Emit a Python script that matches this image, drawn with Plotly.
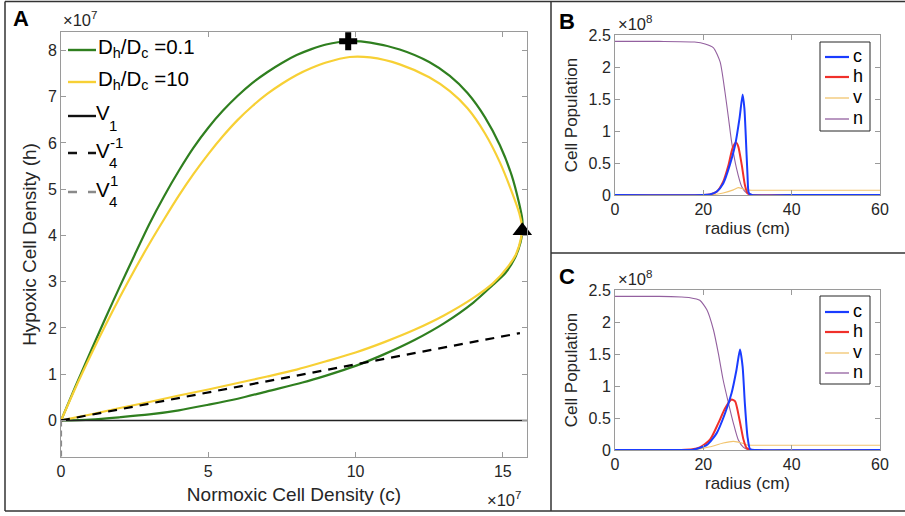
import plotly.graph_objects as go

W, H = 905, 516
FONT = "Liberation Sans, Arial, Helvetica, sans-serif"
TXT = "#262626"
AXC = "#9a9a9a"

# ---------------- Panel A data (units of 1e7) ----------------
# upper branches (origin -> tip) and lower branches (tip -> origin)
green_up_c = [0, 0.5, 1.0, 1.5, 2.0, 2.5, 3.0, 3.5, 4.0, 4.5, 5.0, 5.5, 6.0, 6.5, 7.0, 7.5, 8.0, 8.5, 9.0, 9.75,
              10.5, 11.5, 12.5, 13.2, 13.8, 14.4, 14.9, 15.3, 15.55, 15.66, 15.68]
green_up_h = [0, 0.75, 1.48, 2.2, 2.9, 3.58, 4.25, 4.85, 5.4, 5.9, 6.33, 6.7, 7.02, 7.3, 7.53, 7.73, 7.9, 8.03, 8.13, 8.2,
              8.17, 8.02, 7.75, 7.45, 7.08, 6.55, 5.95, 5.3, 4.7, 4.35, 4.15]
green_lo_c = [15.68, 15.6, 15.4, 15.1, 14.66, 14.0, 13.0, 12.0, 11.0, 10.0, 9.0, 8.2, 7.0, 6.0, 5.0, 4.0, 3.0, 2.0, 1.0, 0]
green_lo_h = [4.15, 3.85, 3.5, 3.2, 2.93, 2.55, 2.1, 1.74, 1.44, 1.18, 0.97, 0.82, 0.63, 0.47, 0.34, 0.22, 0.13, 0.07, 0.02, 0]
yellow_up_c = [0, 0.5, 1.0, 1.5, 2.0, 2.5, 3.0, 3.5, 4.0, 4.5, 5.0, 5.5, 6.0, 6.5, 7.0, 7.5, 8.0, 8.5, 9.0, 9.8,
               10.5, 11.5, 12.5, 13.2, 13.8, 14.4, 14.9, 15.3, 15.55, 15.66]
yellow_up_h = [0, 0.72, 1.4, 2.05, 2.67, 3.26, 3.82, 4.35, 4.86, 5.33, 5.76, 6.15, 6.5, 6.8, 7.06, 7.28, 7.47, 7.62, 7.74, 7.86,
               7.85, 7.7, 7.42, 7.12, 6.75, 6.2, 5.58, 4.95, 4.5, 4.2]
yellow_lo_c = [15.66, 15.62, 15.45, 15.2, 14.67, 14.0, 13.0, 12.0, 11.0, 10.0, 9.0, 8.0, 7.0, 6.0, 5.0, 4.0, 3.0, 2.0, 1.0, 0]
yellow_lo_h = [4.2, 3.95, 3.6, 3.35, 2.97, 2.65, 2.27, 1.96, 1.7, 1.47, 1.28, 1.1, 0.95, 0.81, 0.67, 0.54, 0.4, 0.27, 0.13, 0]
v1_c = [0, 15.82]
v1_h = [0, 0]
v4m_c = [0, 15.58]
v4m_h = [0, 1.89]
v4p_c = [0, 0]
v4p_h = [0, -0.79]
plus_A = (9.75, 8.2)
tri_A = (15.66, 4.1)

# ---------------- Panel B data (units of 1e8) ----------------
rB_n = [0, 10, 18, 20.4, 22.3, 23.8, 24.9, 25.7, 26.4, 27.5, 28.7, 29.8, 31, 40, 60]
B_n = [2.4, 2.4, 2.39, 2.36, 2.3, 2.08, 1.61, 1.2, 0.83, 0.42, 0.13, 0.03, 0, 0, 0]
rB_c = [0, 20, 21.5, 23, 24.5, 26, 27.2, 28.2, 28.9, 29.3, 29.6, 30.0, 30.3, 31, 40, 60]
B_c = [0, 0, 0.01, 0.05, 0.18, 0.47, 0.78, 1.2, 1.57, 1.35, 0.94, 0.31, 0.03, 0, 0, 0]
rB_h = [0, 20, 21.5, 23, 24.5, 25.7, 26.6, 27.4, 27.9, 28.7, 29.4, 30.0, 31, 40, 60]
B_h = [0, 0, 0.01, 0.05, 0.21, 0.47, 0.73, 0.82, 0.76, 0.47, 0.16, 0.03, 0, 0, 0]
rB_v = [0, 20, 22, 24.5, 26.8, 27.9, 29.0, 29.8, 31, 40, 60]
B_v = [0, 0, 0.005, 0.03, 0.08, 0.115, 0.095, 0.08, 0.075, 0.075, 0.075]
plus_B = (27.5, -0.16)

# ---------------- Panel C data (units of 1e8) ----------------
rC_n = [0, 10, 15, 17, 19.2, 20.8, 22.3, 23.4, 24.5, 25.7, 26.8, 27.9, 29.1, 30.5, 40, 60]
C_n = [2.4, 2.4, 2.39, 2.38, 2.34, 2.19, 1.875, 1.51, 1.09, 0.73, 0.42, 0.16, 0.04, 0, 0, 0]
rC_c = [0, 15, 17.7, 20.8, 23, 24.9, 26.4, 27.5, 28.3, 28.9, 29.4, 30.0, 30.6, 32, 60]
C_c = [0, 0, 0.005, 0.08, 0.26, 0.57, 0.89, 1.25, 1.57, 1.30, 0.73, 0.21, 0.01, 0, 0]
rC_h = [0, 15, 17.5, 19.2, 21.5, 23.4, 24.9, 26.4, 27.2, 28.2, 29.1, 29.8, 31, 60]
C_h = [0, 0, 0.01, 0.04, 0.16, 0.42, 0.65, 0.79, 0.76, 0.47, 0.16, 0.03, 0, 0]
rC_v = [0, 15, 18, 21.5, 24.5, 26.8, 28.7, 29.8, 31, 60]
C_v = [0, 0, 0.005, 0.05, 0.11, 0.135, 0.11, 0.08, 0.075, 0.075]
tri_C = (28.5, -0.10)

A_xticks = [0, 5, 10, 15]
A_yticks = [0, 1, 2, 3, 4, 5, 6, 7, 8]
BC_xticks = [0, 20, 40, 60]
BC_yticks = [0, 0.5, 1, 1.5, 2, 2.5]
BC_ytext = ["0", "0.5", "1", "1.5", "2", "2.5"]

GREEN = "#2f7f1f"
YELLOW = "#f7d035"
BLUE = "#1a3cff"
RED = "#f0302a"
ORANGE = "#f2c46e"
PURPLE = "#93609f"


def px(x):
    return x / W


def py(y):
    return 1 - y / H


fig = go.Figure()


def curve(xs, ys, col, lw, xa, ya, smooth=0.8, dash=None):
    fig.add_trace(go.Scatter(x=xs, y=ys, mode="lines",
                             line=dict(color=col, width=lw, shape="spline", smoothing=smooth, dash=dash),
                             xaxis=xa, yaxis=ya, showlegend=False, hoverinfo="skip"))


# Panel A traces
curve(green_up_c, green_up_h, GREEN, 2.2, "x", "y")
curve(green_lo_c, green_lo_h, GREEN, 2.2, "x", "y")
curve(yellow_up_c, yellow_up_h, YELLOW, 2.2, "x", "y")
curve(yellow_lo_c, yellow_lo_h, YELLOW, 2.2, "x", "y")
curve(v1_c, v1_h, "#222222", 1.6, "x", "y")
curve(v4m_c, v4m_h, "black", 2.2, "x", "y", dash="9px,7px")
curve(v4p_c, v4p_h, "#8a8a8a", 2.2, "x", "y", dash="6px,4px")
fig.add_trace(go.Scatter(x=[plus_A[0]], y=[plus_A[1]], mode="markers", cliponaxis=False, hoverinfo="skip",
                         marker=dict(symbol="cross", size=15, color="black"), xaxis="x", yaxis="y", showlegend=False))
fig.add_trace(go.Scatter(x=[tri_A[0]], y=[tri_A[1]], mode="markers", cliponaxis=False, hoverinfo="skip",
                         marker=dict(symbol="triangle-up", size=17, color="black"), xaxis="x", yaxis="y", showlegend=False))

# Panels B, C
for xa, ya, data in [("x2", "y2", [(rB_n, B_n, PURPLE, 1.1), (rB_v, B_v, ORANGE, 1.1), (rB_h, B_h, RED, 2.0), (rB_c, B_c, BLUE, 2.0)]),
                     ("x3", "y3", [(rC_n, C_n, PURPLE, 1.1), (rC_v, C_v, ORANGE, 1.1), (rC_h, C_h, RED, 2.0), (rC_c, C_c, BLUE, 2.0)])]:
    for xs, ys, col, lw in data:
        curve(xs, ys, col, lw, xa, ya, smooth=0.6)

fig.add_trace(go.Scatter(x=[plus_B[0]], y=[plus_B[1]], mode="markers", cliponaxis=False, hoverinfo="skip",
                         marker=dict(symbol="cross", size=15, color="black"), xaxis="x2", yaxis="y2", showlegend=False))
fig.add_trace(go.Scatter(x=[tri_C[0]], y=[tri_C[1]], mode="markers", cliponaxis=False, hoverinfo="skip",
                         marker=dict(symbol="triangle-up", size=15, color="black"), xaxis="x3", yaxis="y3", showlegend=False))

axis_common = dict(showline=True, linecolor=AXC, linewidth=1, mirror="ticks", ticks="inside", ticklen=5,
                   tickcolor=AXC, zeroline=False, showgrid=False, automargin=False,
                   tickfont=dict(family=FONT, size=16, color=TXT))

fig.update_layout(
    width=W, height=H, margin=dict(l=0, r=0, t=0, b=0, autoexpand=False),
    paper_bgcolor="white", plot_bgcolor="white",
    font=dict(family=FONT, color=TXT),
    xaxis=dict(domain=[px(61), px(527)], range=[0, 15.82], tickvals=A_xticks, anchor="y",
               title=dict(text="Normoxic Cell Density (c)", font=dict(size=19, family=FONT, color=TXT), standoff=8), **axis_common),
    yaxis=dict(domain=[py(457), py(32)], range=[-0.79, 8.4], tickvals=A_yticks, anchor="x",
               title=dict(text="Hypoxic Cell Density (h)", font=dict(size=19, family=FONT, color=TXT), standoff=6), **axis_common),
    xaxis2=dict(domain=[px(615), px(880)], range=[0, 60], tickvals=BC_xticks, anchor="y2",
                title=dict(text="radius (cm)", font=dict(size=17, family=FONT, color=TXT), standoff=4), **axis_common),
    yaxis2=dict(domain=[py(195), py(35)], range=[0, 2.5], tickvals=BC_yticks, ticktext=BC_ytext, anchor="x2",
                title=dict(text="Cell Population", font=dict(size=17, family=FONT, color=TXT), standoff=6), **axis_common),
    xaxis3=dict(domain=[px(615), px(880)], range=[0, 60], tickvals=BC_xticks, anchor="y3",
                title=dict(text="radius (cm)", font=dict(size=17, family=FONT, color=TXT), standoff=4), **axis_common),
    yaxis3=dict(domain=[py(450), py(290)], range=[0, 2.5], tickvals=BC_yticks, ticktext=BC_ytext, anchor="x3",
                title=dict(text="Cell Population", font=dict(size=17, family=FONT, color=TXT), standoff=6), **axis_common),
)

shapes = []
annots = []

# outer frame and dividers
for x0, y0, x1, y1 in [(5, 1.5, 905, 1.5), (5, 1.5, 5, 511), (5, 511, 905, 511), (551, 1.5, 551, 511), (551, 253, 905, 253)]:
    shapes.append(dict(type="line", xref="paper", yref="paper", x0=px(x0), y0=py(y0), x1=px(x1), y1=py(y1),
                       line=dict(color="#333333", width=1.5)))

# Panel A legend (no box)
legA = [
    (50, GREEN, "solid", "D<sub>h</sub>/D<sub>c</sub> =0.1", None, None),
    (82, YELLOW, "solid", "D<sub>h</sub>/D<sub>c</sub> =10", None, None),
    (116, "#111111", "solid", "V", "1", None),
    (153, "#111111", "9px,11px", "V", "4", "-1"),
    (192, "#8a8a8a", "9px,11px", "V", "4", "1"),
]
for yy, col, dash, lab, sub, sup in legA:
    shapes.append(dict(type="line", xref="paper", yref="paper", x0=px(68), x1=px(96), y0=py(yy), y1=py(yy),
                       line=dict(color=col, width=2.4, dash=dash)))
    if sub is None:
        annots.append(dict(x=px(96), y=py(yy - 2), xref="paper", yref="paper", text=lab, showarrow=False,
                           xanchor="left", yanchor="middle", font=dict(size=20.5, family=FONT, color="black")))
    else:
        annots.append(dict(x=px(94), y=py(yy - 3), xref="paper", yref="paper", text=lab, showarrow=False,
                           xanchor="left", yanchor="middle", font=dict(size=20.5, family=FONT, color="black")))
        annots.append(dict(x=px(107), y=py(yy + 9), xref="paper", yref="paper", text=sub, showarrow=False,
                           xanchor="left", yanchor="middle", font=dict(size=15, family=FONT, color="black")))
        if sup is not None:
            annots.append(dict(x=px(108), y=py(yy - 11), xref="paper", yref="paper", text=sup, showarrow=False,
                               xanchor="left", yanchor="middle", font=dict(size=15, family=FONT, color="black")))

# Panels B and C legends (boxed)
for top, bot, rows in [(42, 131, [57, 77, 98, 119]), (296, 384, [312, 332, 353, 373])]:
    shapes.append(dict(type="rect", xref="paper", yref="paper", x0=px(820), x1=px(870), y0=py(bot), y1=py(top),
                       line=dict(color="#262626", width=1), fillcolor="white", layer="above"))
    for yy, col, lw, lab in zip(rows, [BLUE, RED, ORANGE, PURPLE], [2.2, 2.2, 1.3, 1.3], ["c", "h", "v", "n"]):
        shapes.append(dict(type="line", xref="paper", yref="paper", x0=px(825), x1=px(849), y0=py(yy), y1=py(yy),
                           line=dict(color=col, width=lw), layer="above"))
        annots.append(dict(x=px(851), y=py(yy - 1), xref="paper", yref="paper", text=lab, showarrow=False,
                           xanchor="left", yanchor="middle", font=dict(size=18, family=FONT, color="black")))

# panel letters
for lx, ly, t in [(11, 19, "A"), (557, 22, "B"), (557, 276, "C")]:
    annots.append(dict(x=px(lx), y=py(ly), xref="paper", yref="paper", text="<b>" + t + "</b>", showarrow=False,
                       xanchor="left", yanchor="middle", font=dict(size=22, family=FONT, color="black")))

# exponent labels
for ex, ey, t in [(61, 19, "×10<sup>7</sup>"), (485, 499, "×10<sup>7</sup>"), (616, 23, "×10<sup>8</sup>"), (616, 278, "×10<sup>8</sup>")]:
    annots.append(dict(x=px(ex), y=py(ey), xref="paper", yref="paper", text=t, showarrow=False,
                       xanchor="left", yanchor="middle", font=dict(size=16.5, family=FONT, color=TXT)))

fig.update_layout(shapes=shapes, annotations=annots)
fig.write_html("out.html", config={"displayModeBar": False},
               post_script="document.body.style.margin='0';document.body.style.overflow='hidden';")
